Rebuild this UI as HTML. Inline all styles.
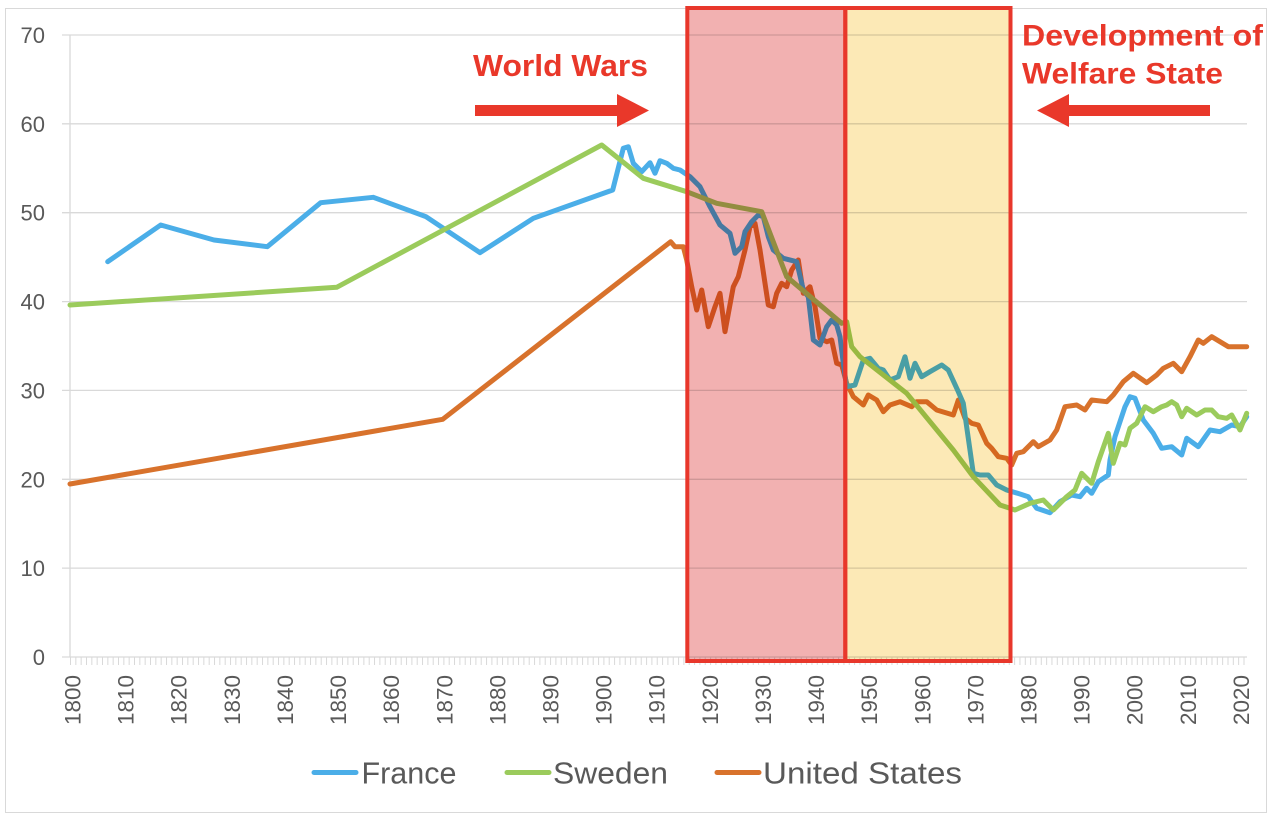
<!DOCTYPE html>
<html>
<head>
<meta charset="utf-8">
<style>
html,body{margin:0;padding:0;background:#fff;}
svg{display:block;}
.yl{font-family:"Liberation Sans",sans-serif;font-size:22px;fill:#595959;}
.xl{font-family:"Liberation Sans",sans-serif;font-size:22.5px;fill:#595959;}
.lg{font-family:"Liberation Sans",sans-serif;font-size:31px;fill:#595959;}
.an{font-family:"Liberation Sans",sans-serif;font-weight:bold;fill:#e9382a;}
</style>
</head>
<body>
<svg width="1280" height="824" viewBox="0 0 1280 824" xmlns="http://www.w3.org/2000/svg">
<rect x="0" y="0" width="1280" height="824" fill="#fff"/>
<rect x="5.5" y="8.5" width="1261" height="804" fill="none" stroke="#d9d9d9" stroke-width="1"/>

<!-- gridlines -->
<g stroke="#d9d9d9" stroke-width="1.3">
<line x1="62" y1="35" x2="1247" y2="35"/>
<line x1="62" y1="123.8" x2="1247" y2="123.8"/>
<line x1="62" y1="212.7" x2="1247" y2="212.7"/>
<line x1="62" y1="301.6" x2="1247" y2="301.6"/>
<line x1="62" y1="390.4" x2="1247" y2="390.4"/>
<line x1="62" y1="479.3" x2="1247" y2="479.3"/>
<line x1="62" y1="568.1" x2="1247" y2="568.1"/>
<line x1="62" y1="657" x2="1247" y2="657"/>
<line x1="70" y1="35" x2="70" y2="657"/>
</g>
<line x1="70" y1="661" x2="1247" y2="661" stroke="#d9d9d9" stroke-width="8" stroke-dasharray="1 4.334"/>

<!-- y labels -->
<g class="yl" text-anchor="end">
<text x="45" y="43">70</text>
<text x="45" y="131.8">60</text>
<text x="45" y="220.7">50</text>
<text x="45" y="309.6">40</text>
<text x="45" y="398.4">30</text>
<text x="45" y="487.3">20</text>
<text x="45" y="576.1">10</text>
<text x="45" y="665">0</text>
</g>

<!-- x labels -->
<g class="xl" text-anchor="end">
<text transform="translate(80.5,675) rotate(-90)" textLength="50" lengthAdjust="spacingAndGlyphs">1800</text>
<text transform="translate(133.6,675) rotate(-90)" textLength="50" lengthAdjust="spacingAndGlyphs">1810</text>
<text transform="translate(186.7,675) rotate(-90)" textLength="50" lengthAdjust="spacingAndGlyphs">1820</text>
<text transform="translate(239.8,675) rotate(-90)" textLength="50" lengthAdjust="spacingAndGlyphs">1830</text>
<text transform="translate(292.9,675) rotate(-90)" textLength="50" lengthAdjust="spacingAndGlyphs">1840</text>
<text transform="translate(346.1,675) rotate(-90)" textLength="50" lengthAdjust="spacingAndGlyphs">1850</text>
<text transform="translate(399.2,675) rotate(-90)" textLength="50" lengthAdjust="spacingAndGlyphs">1860</text>
<text transform="translate(452.3,675) rotate(-90)" textLength="50" lengthAdjust="spacingAndGlyphs">1870</text>
<text transform="translate(505.4,675) rotate(-90)" textLength="50" lengthAdjust="spacingAndGlyphs">1880</text>
<text transform="translate(558.5,675) rotate(-90)" textLength="50" lengthAdjust="spacingAndGlyphs">1890</text>
<text transform="translate(611.6,675) rotate(-90)" textLength="50" lengthAdjust="spacingAndGlyphs">1900</text>
<text transform="translate(664.7,675) rotate(-90)" textLength="50" lengthAdjust="spacingAndGlyphs">1910</text>
<text transform="translate(717.8,675) rotate(-90)" textLength="50" lengthAdjust="spacingAndGlyphs">1920</text>
<text transform="translate(770.9,675) rotate(-90)" textLength="50" lengthAdjust="spacingAndGlyphs">1930</text>
<text transform="translate(824,675) rotate(-90)" textLength="50" lengthAdjust="spacingAndGlyphs">1940</text>
<text transform="translate(877.2,675) rotate(-90)" textLength="50" lengthAdjust="spacingAndGlyphs">1950</text>
<text transform="translate(930.3,675) rotate(-90)" textLength="50" lengthAdjust="spacingAndGlyphs">1960</text>
<text transform="translate(983.4,675) rotate(-90)" textLength="50" lengthAdjust="spacingAndGlyphs">1970</text>
<text transform="translate(1036.5,675) rotate(-90)" textLength="50" lengthAdjust="spacingAndGlyphs">1980</text>
<text transform="translate(1089.6,675) rotate(-90)" textLength="50" lengthAdjust="spacingAndGlyphs">1990</text>
<text transform="translate(1142.7,675) rotate(-90)" textLength="50" lengthAdjust="spacingAndGlyphs">2000</text>
<text transform="translate(1195.8,675) rotate(-90)" textLength="50" lengthAdjust="spacingAndGlyphs">2010</text>
<text transform="translate(1249,675) rotate(-90)" textLength="50" lengthAdjust="spacingAndGlyphs">2020</text>
</g>

<!-- series -->
<g fill="none" stroke-width="5" stroke-linejoin="round" stroke-linecap="round">
<polyline stroke="#d8722c" points="70,484 442.7,419.3 670.7,241.7 675,246.7 683.3,246.7 686.7,260 691.7,286.7 696.7,310 701.7,290 708.3,326.7 715,306.7 720,293.3 725,331.7 733.3,286.7 738.3,276.7 745,250 750,226.7 755,223.3 760,250 765,283.3 768.3,305 773.3,306.7 776.7,293.3 781.7,283.3 786.7,286.7 791.7,270 798.3,260 803.3,293.3 810,286.7 815,306.7 820,338.3 826.7,341.7 831.7,340 836.7,363.3 841.7,365 846.7,383.3 853.3,396.7 863.3,405 868.3,395 876.7,400 883.3,411.7 890,405 900,401.7 911.7,406.7 916.7,401.7 926.7,401.7 936.7,410 953.3,415 958.3,400 965,418.3 971.7,423.3 978.3,425 986.7,443.3 991.7,448.3 998.3,456.7 1006.7,458.3 1011.7,465 1016.7,453.3 1023.3,451.7 1033.3,441.7 1038.3,446.7 1050,440 1056.7,430 1065,406.7 1076.7,405 1085,410 1091.7,400 1106.7,401.7 1113.3,395 1123.3,381.7 1133.3,373.3 1146.7,382.7 1156.7,375 1163.3,368.3 1173.3,363.3 1181.7,371.7 1190,356.7 1198.3,340 1203.3,343.3 1211.7,336.7 1220,341.7 1228.3,346.7 1246.7,346.7"/>
<polyline stroke="#4baee8" points="107.7,261.7 160.7,225 214,240 267.3,246.7 320.7,202.7 373.3,197.3 426,216.7 480,252.7 533.3,218.3 612.7,190 623.3,148.3 628.3,146.7 633.3,163.3 641.7,171.7 650,162.7 655,173.3 660,160.7 666.7,163.3 673.3,168.3 680,170 690,176.7 700,186.7 710,206.7 720,225 730,233.3 735,253.3 741.7,246.7 745,231.7 751.7,221.7 758.3,215 763.3,216.7 768.3,236.7 773.3,250 783.3,258.3 796.7,261.7 803.3,290 808.3,296.7 813.3,340 820,345 826.7,326.7 831.7,320 836.7,325 840,336.7 843.3,363.3 846.7,386.7 855,385 863.3,360 870,358.3 878.3,368.3 883.3,370 890,380 898.3,376.7 905,356.7 910,378.3 915,363.3 921.7,376.7 930,371.7 941.7,365 948.3,370 958.3,391.7 963.3,403.3 973.3,473.3 980,475 988.3,475 996.7,485 1006.7,490 1020,494 1028.3,496.7 1036.7,508.3 1050,512.7 1060,501.7 1071.7,495 1080,496.7 1086.7,488.3 1091.7,493.3 1098.3,481.7 1108.3,475 1110,460 1115,436.7 1125,406.7 1130,396.7 1135,398.3 1143.3,420 1153.3,433.3 1161.7,448.3 1171.7,446.7 1181.7,455 1186.7,438.3 1198.3,446.7 1210,430 1220,431.7 1231.7,425 1240,426.7 1246.7,416.7"/>
<polyline stroke="#9bcb5c" points="70,305 336.7,287.3 601.7,145 643.3,178.3 686.7,191.7 716.7,203.3 761.7,211.7 786.7,276.7 841.7,323.3 846.7,321.7 851.7,346.7 860,356.7 906.7,393.3 953.3,450 973.3,476.7 1000,505 1010,508.3 1015,510 1030,503.3 1043.3,500 1053.3,510 1066.7,496.7 1075,490 1081.7,473.3 1091.7,483.3 1098.3,461.7 1108.3,433.3 1113.3,463.3 1120,443.3 1125,445 1130,428.3 1136.7,423.3 1145,406.7 1153.3,411.7 1161.7,406.7 1166.7,405 1171.7,401.7 1176.7,405 1181.7,416.7 1186.7,408.3 1196.7,415 1205,410 1211.7,410 1218.3,416.7 1226.7,418.3 1231.7,415 1240,430 1246.7,413.3"/>
</g>

<!-- overlay boxes (multiply) -->
<rect x="687" y="8" width="158" height="653" fill="#f2b1b1" style="mix-blend-mode:multiply"/>
<rect x="845" y="8" width="165.5" height="653" fill="#fce9b6" style="mix-blend-mode:multiply"/>
<g fill="none" stroke="#e8372b" stroke-width="4">
<rect x="687.3" y="8" width="158" height="653"/>
<rect x="845.3" y="8" width="165.2" height="653"/>
</g>

<!-- annotations -->
<text class="an" x="473" y="76" font-size="31" textLength="175" lengthAdjust="spacingAndGlyphs">World Wars</text>
<polygon fill="#e9382a" points="475,105 617,105 617,94 649,110.5 617,127 617,116 475,116"/>
<text class="an" x="1022" y="45.5" font-size="30" textLength="241" lengthAdjust="spacingAndGlyphs">Development of</text>
<text class="an" x="1022" y="83.5" font-size="30" textLength="201" lengthAdjust="spacingAndGlyphs">Welfare State</text>
<polygon fill="#e9382a" points="1210,105 1069,105 1069,94 1037,110.5 1069,127 1069,116 1210,116"/>

<!-- legend -->
<g stroke-width="5" stroke-linecap="round">
<line x1="314" y1="772.5" x2="356" y2="772.5" stroke="#4baee8"/>
<line x1="507" y1="772.5" x2="549" y2="772.5" stroke="#9bcb5c"/>
<line x1="717" y1="772.5" x2="759" y2="772.5" stroke="#d8722c"/>
</g>
<text class="lg" x="361.5" y="783.5" textLength="95" lengthAdjust="spacingAndGlyphs">France</text>
<text class="lg" x="553" y="783.5" textLength="115" lengthAdjust="spacingAndGlyphs">Sweden</text>
<text class="lg" x="763" y="783.5" textLength="199" lengthAdjust="spacingAndGlyphs">United States</text>
</svg>
</body>
</html>
